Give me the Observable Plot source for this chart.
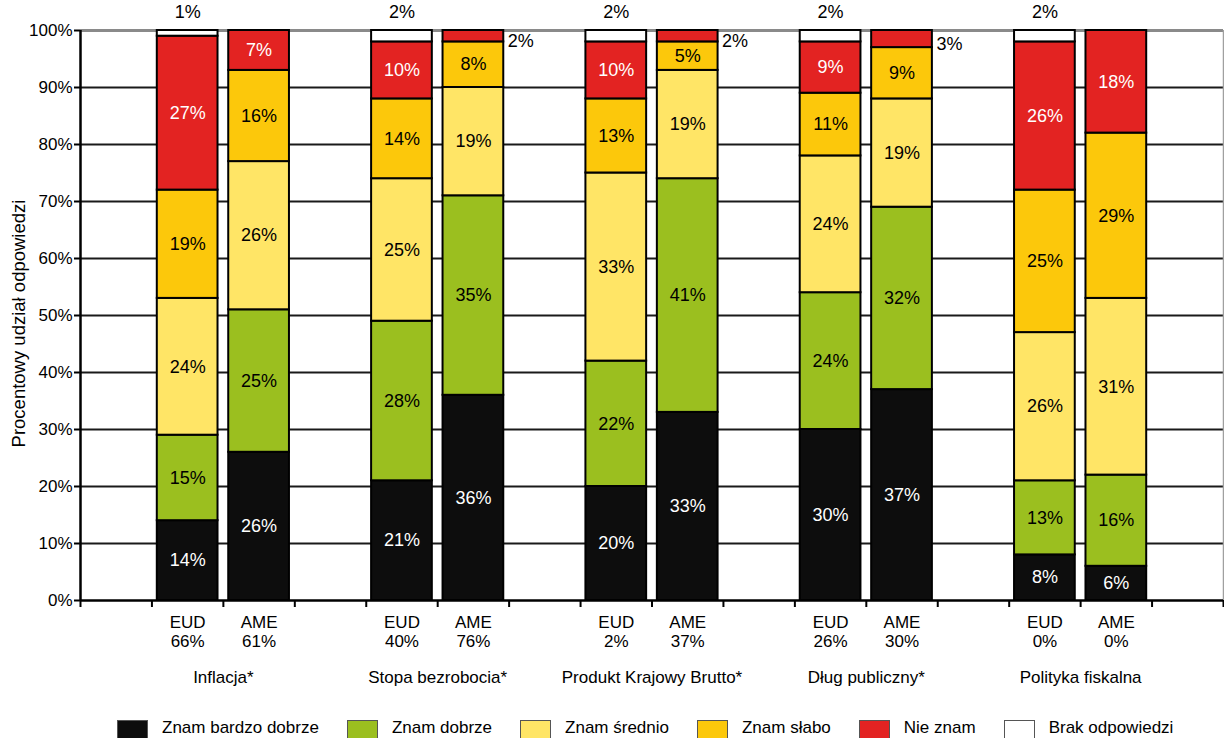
<!DOCTYPE html>
<html>
<head>
<meta charset="utf-8">
<script src="https://cdn.jsdelivr.net/npm/d3@7"></script>
<script src="https://cdn.jsdelivr.net/npm/@observablehq/plot@0.6"></script>
<style>
  body { margin: 0; background: #fff; font-family: "Liberation Sans", Arial, sans-serif; }
  #chart svg { display: block; }
  #legend { position: relative; height: 26px; display: flex; padding-left: 117px; padding-top: 8px; }
  .item { display: flex; align-items: flex-start; margin-right: 28px; }
  .sw { width: 31px; height: 31px; box-sizing: border-box; border: 1px solid #555; }
  .lab { font-size: 17px; line-height: 17px; margin-left: 14px; margin-top: -1px; color: #000; white-space: nowrap; }
</style>
</head>
<body>
<div id="chart"></div>
<div id="legend"></div>
<script>
// Topics and respondent groups
const topics = ["Inflacja*", "Stopa bezrobocia*", "Produkt Krajowy Brutto*", "Dług publiczny*", "Polityka fiskalna"];
const respondents = ["EUD", "AME"];
// Share shown under each bar, in bar order (topic by topic, EUD then AME)
const awareness = [66, 61, 40, 76, 2, 37, 26, 30, 0, 0];

// Answer levels, bottom to top, and their colours
const levels = ["Znam bardzo dobrze", "Znam dobrze", "Znam średnio", "Znam słabo", "Nie znam", "Brak odpowiedzi"];
const levelColors = ["#0d0d0d", "#9bbf1f", "#ffe566", "#fcc80b", "#e32322", "#ffffff"];

// Percentages per level, in bar order
const veryGood = [14, 26, 21, 36, 20, 33, 30, 37, 8, 6];
const good     = [15, 25, 28, 35, 22, 41, 24, 32, 13, 16];
const average  = [24, 26, 25, 19, 33, 19, 24, 19, 26, 31];
const weak     = [19, 16, 14, 8, 13, 5, 11, 9, 25, 29];
const dontKnow = [27, 7, 10, 2, 10, 2, 9, 3, 26, 18];
const noAnswer = [1, 0, 2, 0, 2, 0, 2, 0, 2, 0];

const yTicks = d3.range(0, 101, 10);
const yTitle = "Procentowy udział odpowiedzi";

// Build the table: one slot per bar, an empty slot between topics
const series = [veryGood, good, average, weak, dontKnow, noAnswer];
const bars = topics.flatMap((topic, t) =>
  respondents.map((who, r) => ({topic, who, slot: 1 + 3 * t + r, share: awareness[2 * t + r]}))
);
const rows = bars.flatMap((b, i) =>
  levels.map((level, k) => ({...b, level, k, value: series[k][i]}))
).filter(d => d.value > 0);

const pad = 0.075;
const font = "'Liberation Sans', Arial, sans-serif";
const pct = d => d + "%";
const darkFill = new Set([0, 4]);

const chart = Plot.plot({
  width: 1224,
  height: 712,
  marginTop: 30,
  marginBottom: 112,
  marginLeft: 80,
  marginRight: 1,
  style: {fontFamily: font, fontSize: "17px", color: "#000", background: "#fff"},
  x: {domain: [0, 16], axis: null},
  y: {domain: [0, 100], axis: null},
  color: {domain: levels, range: levelColors},
  marks: [
    // horizontal grid
    Plot.ruleY(yTicks.filter(v => v > 0 && v < 100), {stroke: "#1a1a1a", strokeWidth: 2}),
    Plot.ruleY([100], {stroke: "#8a8a8a", strokeWidth: 3}),
    Plot.ruleX([16], {y1: 0, y2: 100, stroke: "#a0a0a0", strokeWidth: 1.5}),
    // stacked bars
    Plot.rect(rows, Plot.stackY({
      x: "slot",
      x1: d => d.slot + pad,
      x2: d => d.slot + 1 - pad,
      y: "value",
      fill: "level",
      stroke: "#000",
      strokeWidth: 2
    })),
    // value labels inside segments
    Plot.text(rows, Plot.stackY({
      x: d => d.slot + 0.5,
      y: "value",
      text: d => d.value >= 4 && !darkFill.has(d.k) ? pct(d.value) : null,
      fill: "#000",
      fontSize: 18
    })),
    Plot.text(rows, Plot.stackY({
      x: d => d.slot + 0.5,
      y: "value",
      text: d => d.value >= 4 && darkFill.has(d.k) ? pct(d.value) : null,
      fill: "#fff",
      fontSize: 18
    })),
    // small "no answer" shares above the bar
    Plot.text(rows, Plot.stackY2({
      x: d => d.slot + 0.5,
      y: "value",
      text: d => d.k === 5 ? pct(d.value) : null,
      dy: -18,
      fontSize: 18
    })),
    // small "don't know" shares beside the bar
    Plot.text(rows, Plot.stackY({
      x: d => d.slot + 1 - pad,
      y: "value",
      text: d => d.k === 4 && d.value < 4 ? pct(d.value) : null,
      textAnchor: "start",
      dx: 4,
      dy: 5,
      fontSize: 18
    })),
    // axes
    Plot.axisY({
      ticks: yTicks,
      tickFormat: pct,
      tickSize: 6,
      tickPadding: 2,
      strokeWidth: 2,
      fontSize: 17,
      label: null
    }),
    Plot.text([yTitle], {
      frameAnchor: "left",
      textAnchor: "middle",
      dx: -61,
      dy: 8,
      rotate: -90,
      fontSize: 18.5,
      text: d => d
    }),
    Plot.ruleX([0], {y1: 0, y2: 100, stroke: "#000", strokeWidth: 2.5}),
    Plot.ruleY([0], {stroke: "#000", strokeWidth: 2.5}),
    Plot.axisX({ticks: d3.range(0, 17), tickFormat: () => "", tickSize: 7, strokeWidth: 2}),
    // bar and topic labels
    Plot.text(bars, {x: d => d.slot + 0.5, y: () => 0, text: "who", dy: 22, fontSize: 17}),
    Plot.text(bars, {x: d => d.slot + 0.5, y: () => 0, text: d => pct(d.share), dy: 41, fontSize: 17}),
    Plot.text(topics, {x: (d, i) => 3 * i + 2, y: () => 0, text: d => d, dy: 77, fontSize: 17})
  ]
});
document.getElementById("chart").append(chart);

// Legend
const legend = document.getElementById("legend");
levels.forEach((name, i) => {
  const item = document.createElement("div");
  item.className = "item";
  const sw = document.createElement("div");
  sw.className = "sw";
  sw.style.background = levelColors[i];
  const lab = document.createElement("div");
  lab.className = "lab";
  lab.textContent = name;
  item.append(sw, lab);
  legend.append(item);
});
</script>
</body>
</html>
